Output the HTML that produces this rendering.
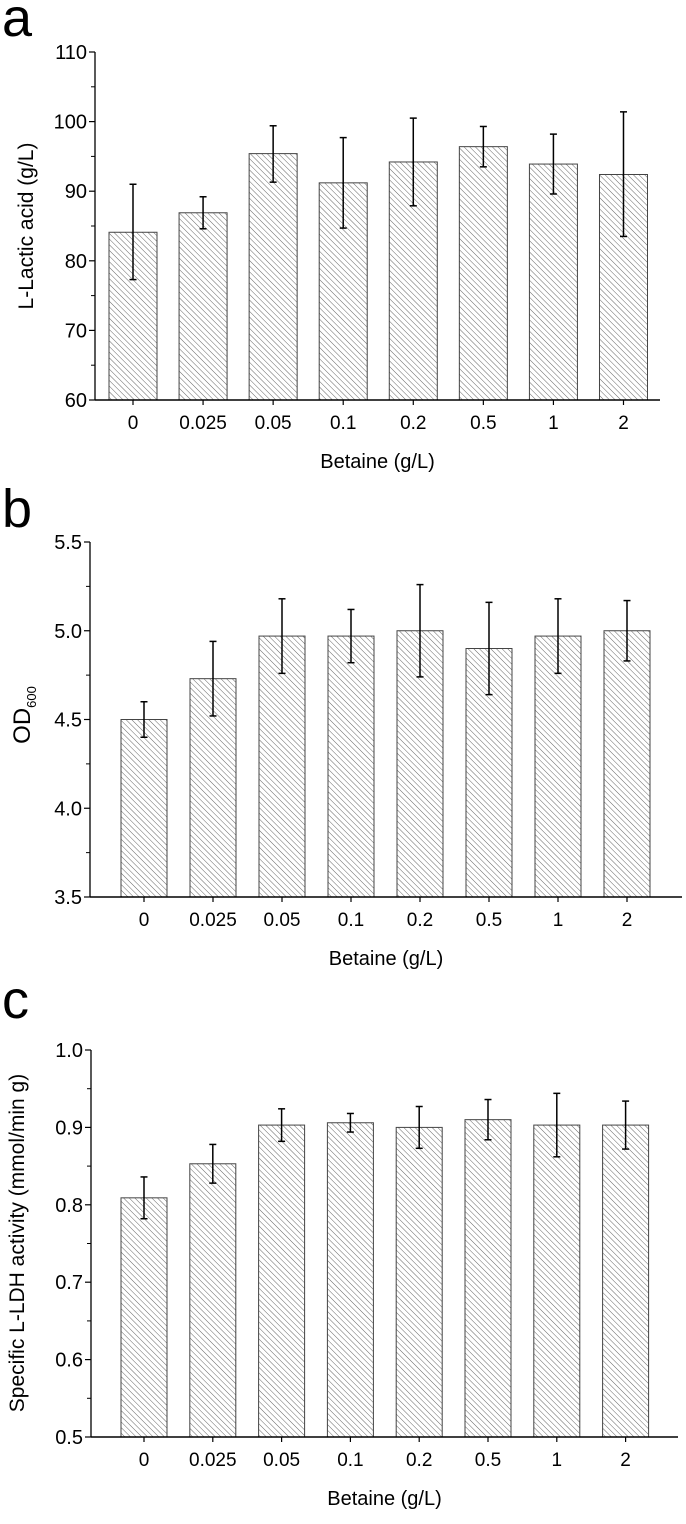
<!DOCTYPE html>
<html><head><meta charset="utf-8"><style>
body{margin:0;background:#fff;width:686px;height:1519px;overflow:hidden;font-family:"Liberation Sans",Arial,sans-serif}
svg text{font-family:"Liberation Sans",Arial,sans-serif;fill:#000}
</style></head><body>
<svg id="fig" width="686" height="1519" viewBox="0 0 686 1519" xmlns="http://www.w3.org/2000/svg">
<defs>
<pattern id="hatch" patternUnits="userSpaceOnUse" width="4" height="4" patternTransform="rotate(-45)">
<line x1="0" y1="0" x2="0" y2="4" stroke="#555" stroke-width="0.9"/>
</pattern>
</defs>
</svg>
<script>
const categories=["0","0.025","0.05","0.1","0.2","0.5","1","2"];
const lacticValues=[84.1,86.9,95.4,91.2,94.2,96.4,93.9,92.4];
const lacticLow=[77.3,84.6,91.3,84.7,87.9,93.5,89.6,83.5];
const lacticHigh=[91.0,89.2,99.4,97.7,100.5,99.3,98.2,101.4];
const odValues=[4.50,4.73,4.97,4.97,5.00,4.90,4.97,5.00];
const odErr=[0.10,0.21,0.21,0.15,0.26,0.26,0.21,0.17];
const ldhValues=[0.809,0.853,0.903,0.906,0.900,0.910,0.903,0.903];
const ldhErr=[0.027,0.025,0.021,0.012,0.027,0.026,0.041,0.031];
const lacticTicks=["60","70","80","90","100","110"];
const odTicks=["3.5","4.0","4.5","5.0","5.5"];
const ldhTicks=["0.5","0.6","0.7","0.8","0.9","1.0"];

const NS="http://www.w3.org/2000/svg";
const svg=document.getElementById('fig');
function mk(tag,attrs,parent){const e=document.createElementNS(NS,tag);for(const k in attrs)e.setAttribute(k,attrs[k]);(parent||svg).appendChild(e);return e;}

function panel(cfg){
  const g=mk('g',{});
  
  
  const y=v=>cfg.yBot-(v-cfg.min)/(cfg.max-cfg.min)*(cfg.yBot-cfg.yTop);
  const x=i=>cfg.c0+i*cfg.step;
  cfg.vals.forEach((v,i)=>{
    const r=mk('rect',{x:x(i)-cfg.bw/2,y:y(v),width:cfg.bw,height:cfg.yBot-y(v),fill:'url(#hatch)',stroke:'#444','stroke-width':1},g);
    
    
  });
  cfg.vals.forEach((v,i)=>{
    const lo=cfg.lo[i],hi=cfg.hi[i];
    const eb=mk('g',{stroke:'#000','stroke-width':1.5},g);
    
    
    mk('line',{x1:x(i),x2:x(i),y1:y(lo),y2:y(hi)},eb);
    mk('line',{x1:x(i)-3.5,x2:x(i)+3.5,y1:y(lo),y2:y(lo)},eb);
    mk('line',{x1:x(i)-3.5,x2:x(i)+3.5,y1:y(hi),y2:y(hi)},eb);
  });
  const ya=mk('line',{x1:cfg.ax,x2:cfg.ax,y1:cfg.yTop,y2:cfg.yBot,stroke:'#000','stroke-width':1.3},g);
  
  const xa=mk('line',{x1:cfg.ax,x2:cfg.axEnd,y1:cfg.yBot,y2:cfg.yBot,stroke:'#000','stroke-width':1.5},g);
  
  const n=cfg.ticks.length;
  cfg.ticks.forEach((t,k)=>{
    const v=cfg.min+k*cfg.tstep;
    mk('line',{x1:cfg.ax-6,x2:cfg.ax,y1:y(v),y2:y(v),stroke:'#000','stroke-width':1.2},g);
    if(k<n-1){const vm=v+cfg.tstep/2;mk('line',{x1:cfg.ax-4,x2:cfg.ax,y1:y(vm),y2:y(vm),stroke:'#000','stroke-width':1},g);}
    const tl=mk('text',{x:cfg.ax-8,y:y(v)+7,'text-anchor':'end','font-size':20},g);
    tl.textContent=t;
    
  });
  categories.forEach((c,i)=>{
    mk('line',{x1:x(i),x2:x(i),y1:cfg.yBot,y2:cfg.yBot+5,stroke:'#000','stroke-width':1.2},g);
    const tl=mk('text',{x:x(i),y:cfg.yBot+29,'text-anchor':'middle','font-size':19},g);
    tl.textContent=c;
    
  });
  const xt=mk('text',{x:(cfg.ax+cfg.axEnd)/2,y:cfg.yBot+68,'text-anchor':'middle','font-size':20},g);
  xt.textContent='Betaine (g/L)';
  
  const yt=mk('text',{x:0,y:0,'text-anchor':'middle','font-size':cfg.ytSize||21,transform:`translate(${cfg.ytx},${cfg.yty}) rotate(-90)`},g);
  if(cfg.ytitleHTML){yt.innerHTML=cfg.ytitleHTML;}else{yt.textContent=cfg.ytitle;}
  
  const lt=mk('text',{x:cfg.lx,y:cfg.ly,'font-size':54},g);
  lt.textContent=cfg.letter;
  
}

panel({name:'panel-a-lactic-acid',letter:'a',lx:2,ly:36,min:60,max:110,tstep:10,ticks:lacticTicks,yTop:52,yBot:400,ax:95,axEnd:660,c0:133,step:70.07,bw:48,
  vals:lacticValues,lo:lacticLow,hi:lacticHigh,ytitle:'L-Lactic acid (g/L)',ytx:33,yty:226});
panel({name:'panel-b-od600',letter:'b',lx:2,ly:527,min:3.5,max:5.5,tstep:0.5,ticks:odTicks,yTop:542,yBot:897,ax:90,axEnd:682,c0:144,step:69,bw:46,
  vals:odValues,lo:odValues.map((v,i)=>v-odErr[i]),hi:odValues.map((v,i)=>v+odErr[i]),ytitleHTML:'OD<tspan font-size="13" dy="6">600</tspan>',ytSize:24,ytx:30,yty:715});
panel({name:'panel-c-ldh-activity',letter:'c',lx:2,ly:1018,min:0.5,max:1.0,tstep:0.1,ticks:ldhTicks,yTop:1050,yBot:1437,ax:91,axEnd:678,c0:144,step:68.8,bw:46,
  vals:ldhValues,lo:ldhValues.map((v,i)=>v-ldhErr[i]),hi:ldhValues.map((v,i)=>v+ldhErr[i]),ytitle:'Specific L-LDH activity (mmol/min g)',ytx:24,yty:1243});
</script>
</body></html>
